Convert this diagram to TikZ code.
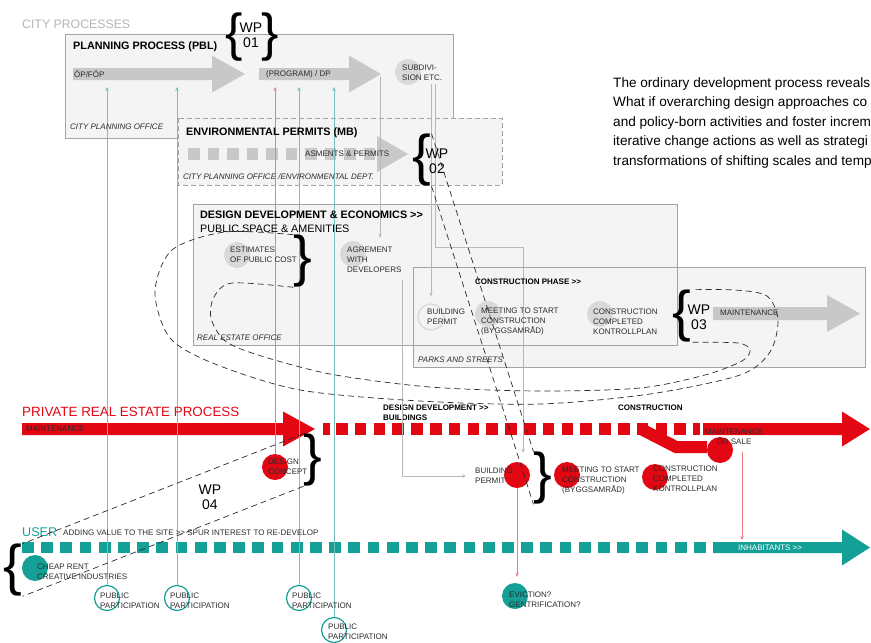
\documentclass[tikz,border=0pt]{standalone}
\usepackage{fontspec}
\setmainfont{Liberation Sans}
\usetikzlibrary{arrows.meta,positioning}

\definecolor{boxfill}{HTML}{F4F4F4}
\definecolor{boxline}{HTML}{A3A3A3}
\definecolor{arrowgray}{HTML}{C8C8C8}
\definecolor{dotgray}{HTML}{D9D9D9}
\definecolor{prired}{HTML}{E30613}
\definecolor{redthin}{HTML}{F07C7C}
\definecolor{userteal}{HTML}{14A096}
\definecolor{tealthin}{HTML}{74C2BC}
\definecolor{linegray}{HTML}{B8B8B8}
\definecolor{txtdark}{HTML}{2B2B2B}
\definecolor{titlegray}{HTML}{B5B5B5}

% block arrow: colour, x start, x head base, x tip, y mid, shaft half, head half
\newcommand{\fatarrow}[7]{%
  \fill[#1] (#2,#5-#6) -- (#3,#5-#6) -- (#3,#5-#7) -- (#4,#5)
    -- (#3,#5+#7) -- (#3,#5+#6) -- (#2,#5+#6) -- cycle;}

\begin{document}
\begin{tikzpicture}[x=1pt,y=-1pt,>={Stealth[length=4pt,width=3.5pt]},
	lbl/.style={font=\fontsize{8}{10}\selectfont,text=txtdark,inner sep=0,align=left,anchor=west},
	office/.style={lbl,font=\fontsize{8}{10}\selectfont\itshape},
	ttl/.style={font=\fontsize{10.8}{13}\selectfont\bfseries,inner sep=0,anchor=west},
	sbold/.style={lbl,font=\fontsize{8}{10}\selectfont\bfseries,text=black},
	pbox/.style={fill=boxfill,draw=boxline,line width=0.8pt},
	graydot/.style={circle,fill=dotgray,minimum size=26pt,inner sep=0},
	reddot/.style={circle,fill=prired,minimum size=26pt,inner sep=0},
	tealdot/.style={circle,fill=userteal,minimum size=26pt,inner sep=0},
	ringdot/.style={circle,draw=userteal,fill=white,line width=1.2pt,minimum size=25pt,inner sep=0},
	tealline/.style={draw=tealthin,line width=1pt,->},
	redline/.style={draw=redthin,line width=1pt,->},
	grayline/.style={draw=linegray,line width=1pt,->},
	wpdash/.style={draw=txtdark,line width=0.7pt,dash pattern=on 6pt off 4pt},
	brc/.style={font=\fontsize{56}{56}\selectfont,inner sep=0},
	wp/.style={font=\fontsize{14}{15.5}\selectfont,inner sep=0,align=center}]
	\useasboundingbox (0,0) rectangle (871,643);
	% city boxes
	\draw[pbox] (65,34) rectangle (453,138);
	\draw[pbox,dash pattern=on 5pt off 3pt] (178,118) rectangle (502,185);
	\fill[boxfill] (193,204) rectangle (677,345);
	\fill[boxfill] (413,267) rectangle (865,367);
	\draw[boxline,line width=0.8pt] (193,204) rectangle (677,345);
	\draw[boxline,line width=0.8pt] (413,267) rectangle (865,367);
	% gray process arrows
	\fatarrow{arrowgray}{73}{212}{245}{74}{6}{18.5}
	\fatarrow{arrowgray}{259}{349}{381}{74}{6}{18.5}
	\foreach \i in {0,...,9} \fill[arrowgray] ({188+19.5*\i},148) rectangle ++(11.5,12);
	\fatarrow{arrowgray}{377}{377}{408}{154}{6}{18}
	\fatarrow{arrowgray}{713}{827}{860}{313.5}{6.5}{18.5}
	% city steps
	\node[graydot] (sub) at (408,72) {};
	\node[graydot] (est) at (237,255) {};
	\node[graydot] (agr) at (353,254) {};
	\node[circle,draw=dotgray,line width=1.3pt,minimum size=26pt,inner sep=0] (cbp) at (431,317) {};
	\node[graydot] (cmeet) at (488,314) {};
	\node[graydot] (ccomp) at (600,314) {};
	% private and user arrows
	\fatarrow{prired}{22}{283}{315}{429}{6}{17.5}
	\fill[prired] (323,423) rectangle ++(7,12);
	\foreach \i in {0,...,18} \fill[prired] ({336+18.8*\i},423) rectangle ++(11.5,12);
	\fill[prired] (693,423) rectangle ++(7,12);
	\fatarrow{prired}{703}{842}{870}{429}{6}{17.5}
	\draw[prired,line width=12pt] (641,429) -- (676,447) -- (707,447);
	\foreach \i in {0,...,35} \fill[userteal] ({22+19.2*\i},542) rectangle ++(11.7,11);
	\fatarrow{userteal}{713}{842}{870}{547.5}{5.5}{18}
	% private and user steps
	\node[reddot] (dcon) at (275,467) {};
	\node[reddot] (pbp) at (517,475) {};
	\node[reddot] (pmeet) at (567,475) {};
	\node[reddot] (pcomp) at (655,477) {};
	\node[reddot] (sale) at (720,450) {};
	\node[tealdot] (cheap) at (35,568) {};
	\node[tealdot] (evict) at (515,596) {};
	\node[ringdot] (pp1) at (107,598) {};
	\node[ringdot] (pp2) at (177,598) {};
	\node[ringdot] (pp3) at (299,598) {};
	\node[ringdot] (pp4) at (334,630) {};
	% connectors
	\coordinate (plan) at (0,87);
	\coordinate (usertop) at (0,540);
	\foreach \p in {pp1,pp2,pp3,pp4} \draw[tealline] (\p.north) -- (\p.north |- plan);
	\draw[redline] (dcon.north) -- (dcon.north |- plan);
	\draw[redline,shorten >=6pt] (pbp.south) -- (pbp.south |- evict.north);
	\coordinate (saleout) at (742,452);
	\draw[redline] (saleout) -- (saleout |- usertop);
	\coordinate (dp) at (380,76);
	\draw[grayline,shorten >=3pt] (dp) -- (dp |- agr.north);
	\coordinate (subA) at (431,84);
	\coordinate (subB) at (435,84);
	\coordinate (turn) at (523,247);
	\draw[grayline,shorten >=7pt] (subA) -- (subA |- cbp.north);
	\draw[grayline,shorten >=9pt] (subB) |- (turn) -- (turn |- pbp.north);
	\coordinate (agrout) at (402,280);
	% city labels
	\node[font=\fontsize{12.3}{14}\selectfont,text=titlegray,inner sep=0,anchor=west] (city) at (22,24) {CITY PROCESSES};
	\node[ttl] (pblt) at (73,47) {PLANNING PROCESS (PBL)};
	\node[lbl] (op) at (74,74) {ÖP/FÖP};
	\node[lbl] (prog) at (266,74) {(PROGRAM) / DP};
	\node[lbl] (subt) at (402,73) {SUBDIVI-\\SION ETC.};
	\node[office] (cpo) at (70,127) {CITY PLANNING OFFICE};
	\node[ttl] (envt) at (186,133) {ENVIRONMENTAL PERMITS (MB)};
	\node[lbl] (asm) at (305,154) {ASMENTS \& PERMITS};
	\node[office] (envo) at (183,177) {CITY PLANNING OFFICE /ENVIRONMENTAL DEPT.};
	\node[ttl] (ddt) at (200,215) {DESIGN DEVELOPMENT \& ECONOMICS >{}>};
	\node[font=\fontsize{10.8}{13}\selectfont,inner sep=0,anchor=west] (pubsp) at (200,229) {PUBLIC SPACE \& AMENITIES};
	\node[lbl] (estt) at (230,255) {ESTIMATES\\OF PUBLIC COST};
	\node[lbl] (agrt) at (347,260) {AGREMENT\\WITH\\DEVELOPERS};
	\node[office] (reo) at (197,338) {REAL ESTATE OFFICE};
	\node[sbold] (cpt) at (475,282) {CONSTRUCTION PHASE >{}>};
	\node[lbl] (cbpt) at (427,317) {BUILDING\\PERMIT};
	\node[lbl] (cmeett) at (481,322) {MEETING TO START\\CONSTRUCTION\\(BYGGSAMRÅD)};
	\node[lbl] (ccompt) at (593,322) {CONSTRUCTION\\COMPLETED\\KONTROLLPLAN};
	\node[lbl] (maint) at (720,313) {MAINTENANCE};
	\node[office] (pso) at (418,360) {PARKS AND STREETS};
	% private labels
	\node[font=\fontsize{13.4}{15}\selectfont,text=prired,inner sep=0,anchor=west] (pret) at (22,412) {PRIVATE REAL ESTATE PROCESS};
	\node[lbl] (pmaint) at (26,429) {MAINTENANCE};
	\node[sbold] (ddb) at (383,413) {DESIGN DEVELOPMENT >{}>\\BUILDINGS};
	\node[sbold] (cons) at (618,408) {CONSTRUCTION};
	\node[lbl] (dcont) at (268,467) {DESIGN\\CONCEPT};
	\node[lbl] (pbpt) at (475,476) {BUILDING\\PERMIT};
	\node[lbl] (pmeett) at (562,481) {MEETING TO START\\CONSTRUCTION\\(BYGGSAMRÅD)};
	\node[lbl] (pcompt) at (653,479) {CONSTRUCTION\\COMPLETED\\KONTROLLPLAN};
	\node[lbl,align=center,anchor=center] (salet) at (734,437) {MAINTENANCE\\OR SALE};
	\draw[grayline,shorten >=9pt] (agrout) |- (pbpt.west);
	% user labels
	\node[font=\fontsize{12.6}{14}\selectfont,text=userteal,inner sep=0,anchor=west] (usert) at (22,532) {USER};
	\node[lbl] (addv) at (63,533) {ADDING VALUE TO THE SITE >{}> SPUR INTEREST TO RE-DEVELOP};
	\node[lbl,text=white] (inh) at (738,548) {INHABITANTS >{}>};
	\node[lbl] (cheapt) at (37,572) {CHEAP RENT\\CREATIVE INDUSTRIES};
	\node[lbl] (evictt) at (509,600) {EVICTION?\\GENTRIFICATION?};
	\node[lbl] (pp1t) at (100,601) {PUBLIC\\PARTICIPATION};
	\node[lbl] (pp2t) at (170,601) {PUBLIC\\PARTICIPATION};
	\node[lbl] (pp3t) at (292,601) {PUBLIC\\PARTICIPATION};
	\node[lbl] (pp4t) at (328,632) {PUBLIC\\PARTICIPATION};
	% work packages
	\node[brc,font=\fontsize{52}{52}\selectfont] (b1l) at (234,37) {\{};
	\node[brc,font=\fontsize{52}{52}\selectfont] (b1r) at (270,37) {\}};
	\node[wp] (wp1) at (251,35) {WP\\01};
	\node[brc] (b2) at (422,160) {\{};
	\node[wp] (wp2) at (437,161) {WP\\02};
	\node[brc] (b3) at (303,261) {\}};
	\node[brc] (b7) at (682,316) {\{};
	\node[wp] (wp3) at (699,317) {WP\\03};
	\node[brc] (b4) at (313,460) {\}};
	\node[wp] (wp4) at (210,497) {WP\\04};
	\node[brc] (b5) at (543,478) {\}};
	\node[brc] (b6) at (13,570) {\{};
	\draw[wpdash] (b2.north east) -- (b5.north west);
	\draw[wpdash] (b2.south east) -- (b5.south west);
	\draw[wpdash] (b4.north west) -- (b6.north east);
	\draw[wpdash] (b4.south west) -- (b6.south east);
	\draw[wpdash] plot[smooth] coordinates {(b3.north west) (225,232) (172,250) (155,292) (170,338) (215,364) (300,390) (420,401) (540,404) (650,394) (740,375) (770,352) (778,320) (767,296) (735,290) (b7.north east)};
	\draw[wpdash] plot[smooth] coordinates {(b3.south west) (232,283) (214,297) (211,318) (224,340) (255,354) (330,374) (430,387) (540,391) (640,388) (705,375) (742,361) (750,350) (738,343) (b7.south east)};
	% intro text
	\node[anchor=north west,inner sep=0,align=left,font=\fontsize{13.6}{19.5}\selectfont] (intro) at (613,77) {The ordinary development process reveals\\What if overarching design approaches co\\and policy-born activities and foster increm\\iterative change actions as well as strategi\\transformations of shifting scales and temp};
\end{tikzpicture}
\end{document}
